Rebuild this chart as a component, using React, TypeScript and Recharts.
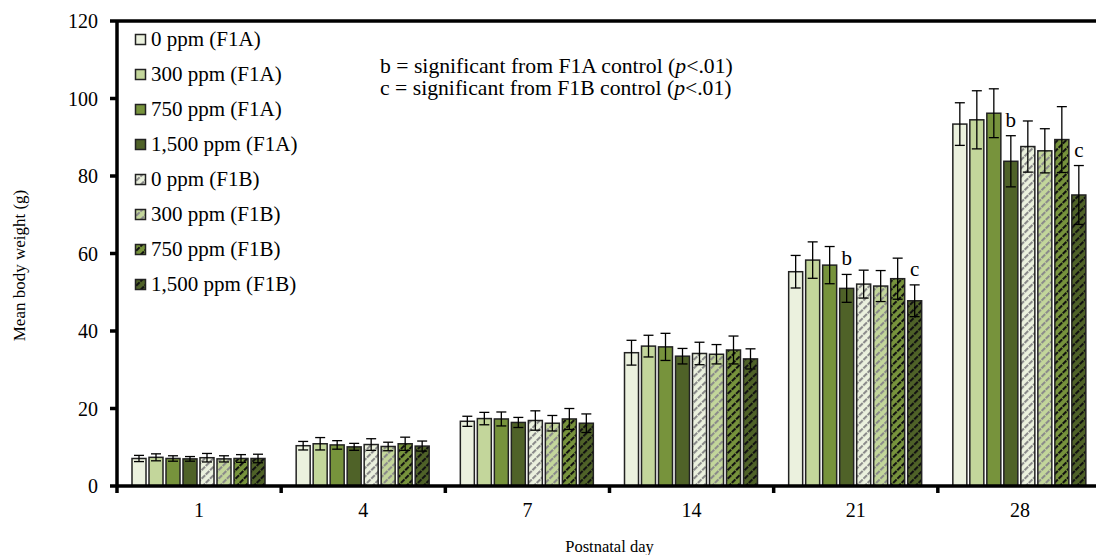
import * as React from "react";
import {
  Bar,
  BarChart,
  LabelList,
  ReferenceLine,
  XAxis,
  YAxis
} from "recharts";

const days = ["1", "4", "7", "14", "21", "28"];

const f1a0 = [7.1, 10.4, 16.7, 34.4, 55.3, 93.4];
const f1a0Err = [0.8, 1.1, 1.3, 3.2, 4.2, 5.5];
const f1a300 = [7.4, 10.9, 17.4, 36.1, 58.3, 94.5];
const f1a300Err = [0.9, 1.6, 1.6, 2.8, 4.7, 7.5];
const f1a750 = [7.1, 10.6, 17.3, 35.9, 57.0, 96.2];
const f1a750Err = [0.7, 1.1, 1.8, 3.5, 4.8, 6.3];
const f1a1500 = [7.0, 10.1, 16.4, 33.5, 51.0, 83.8];
const f1a1500Err = [0.6, 0.9, 1.3, 2.0, 3.6, 6.6];

const f1b0 = [7.3, 10.7, 16.9, 34.2, 52.1, 87.6];
const f1b0Err = [1.1, 1.5, 2.5, 2.9, 3.6, 6.6];
const f1b300 = [7.0, 10.2, 16.2, 34.0, 51.6, 86.5];
const f1b300Err = [0.8, 1.1, 2.0, 2.5, 4.0, 5.7];
const f1b750 = [7.1, 10.9, 17.3, 35.1, 53.5, 89.4];
const f1b750Err = [1.0, 1.7, 2.7, 3.6, 5.3, 8.5];
const f1b1500 = [7.1, 10.3, 16.2, 32.8, 47.8, 75.1];
const f1b1500Err = [1.1, 1.3, 2.4, 2.6, 4.1, 7.6];

// significance letters drawn above the 1,500 ppm bars
const sigF1A = ["", "", "", "", "b", "b"];
const sigF1B = ["", "", "", "", "c", "c"];

const yTicks = [0, 20, 40, 60, 80, 100, 120];

const FONT = "'Liberation Serif', 'Times New Roman', serif";

const series = [
  { key: "a0", name: "0 ppm (F1A)", fill: "#EBF1DE", values: f1a0, err: f1a0Err },
  { key: "a300", name: "300 ppm (F1A)", fill: "#C3D69B", values: f1a300, err: f1a300Err },
  { key: "a750", name: "750 ppm (F1A)", fill: "#77933C", values: f1a750, err: f1a750Err },
  { key: "a1500", name: "1,500 ppm (F1A)", fill: "#4F6228", values: f1a1500, err: f1a1500Err },
  { key: "b0", name: "0 ppm (F1B)", fill: "url(#hatch0)", values: f1b0, err: f1b0Err },
  { key: "b300", name: "300 ppm (F1B)", fill: "url(#hatch300)", values: f1b300, err: f1b300Err },
  { key: "b750", name: "750 ppm (F1B)", fill: "url(#hatch750)", values: f1b750, err: f1b750Err },
  { key: "b1500", name: "1,500 ppm (F1B)", fill: "url(#hatch1500)", values: f1b1500, err: f1b1500Err }
];

const data = days.map((day, i) => {
  const row: Record<string, any> = { day, sigA: sigF1A[i], sigB: sigF1B[i] };
  series.forEach((s) => {
    row[s.key] = s.values[i];
  });
  return row;
});

const hatches = [
  { id: "hatch0", bg: "#EBF1DE", line: "#8a8a8a" },
  { id: "hatch300", bg: "#C3D69B", line: "#8a8a8a" },
  { id: "hatch750", bg: "#77933C", line: "#111" },
  { id: "hatch1500", bg: "#4F6228", line: "#111" }
];

// bar with its +/- error bar drawn on top
function barWithError(values: number[], errs: number[]) {
  return (props: any) => {
    const { x, y, width, height, fill, index } = props;
    const e = (errs[index] * height) / values[index];
    const cx = x + width / 2;
    return (
      <g>
        <rect x={x} y={y} width={width} height={height} fill={fill} stroke="#222" strokeWidth={1.5} />
        <line x1={cx} y1={y - e} x2={cx} y2={y + e} stroke="#000" strokeWidth={1.3} />
        <line x1={cx - 5} y1={y - e} x2={cx + 5} y2={y - e} stroke="#000" strokeWidth={1.3} />
        <line x1={cx - 5} y1={y + e} x2={cx + 5} y2={y + e} stroke="#000" strokeWidth={1.3} />
      </g>
    );
  };
}

function sigLabel(values: number[], errs: number[]) {
  return (props: any) => {
    const vb = props.viewBox || {};
    const x = props.x ?? vb.x;
    const y = props.y ?? vb.y;
    const width = props.width ?? vb.width;
    const height = props.height ?? vb.height;
    const idx = props.index;
    if (!props.value || idx == null) return null;
    const top = y - (errs[idx] * height) / values[idx];
    return (
      <text
        x={x + width / 2}
        y={top - 9}
        textAnchor="middle"
        fontSize={21}
        fontFamily={FONT}
        fill="#000"
      >
        {props.value}
      </text>
    );
  };
}

// category label in the middle, tick marks on the group edges
function XTick(props: any) {
  const { x, y, payload, visibleTicksCount } = props;
  const half = payload.offset || 0;
  const isLast = payload.index === (visibleTicksCount ?? days.length) - 1;
  return (
    <g>
      <line x1={x - half} y1={y} x2={x - half} y2={y + 7} stroke="#000" strokeWidth={3.5} />
      {isLast && (
        <line x1={x + half} y1={y} x2={x + half} y2={y + 7} stroke="#000" strokeWidth={3.5} />
      )}
      <text x={x} y={y + 31} textAnchor="middle" fontSize={20} fontFamily={FONT} fill="#000">
        {payload.value}
      </text>
    </g>
  );
}

function YTitle(props: any) {
  const vb = props.viewBox || {};
  const cx = vb.x + 21;
  const cy = vb.y + vb.height / 2 + 12;
  return (
    <text
      x={cx}
      y={cy}
      transform={`rotate(-90, ${cx}, ${cy})`}
      textAnchor="middle"
      dominantBaseline="middle"
      fontSize={17}
      fontFamily={FONT}
      fill="#000"
    >
      Mean body weight (g)
    </text>
  );
}

function LegendBox() {
  return (
    <div
      style={{
        position: "absolute",
        left: 134,
        top: 22,
        fontFamily: FONT,
        fontSize: 21,
        color: "#000",
        whiteSpace: "nowrap"
      }}
    >
      {series.map((s) => (
        <div
          key={s.key}
          style={{ display: "flex", alignItems: "center", height: 35 }}
        >
          <svg width={15} height={13} style={{ marginRight: 2 }}>
            <rect x={1.5} y={1.5} width={10} height={10} fill={s.fill} stroke="#222" strokeWidth={1.5} />
          </svg>
          <span>{s.name}</span>
        </div>
      ))}
    </div>
  );
}

export default function App() {
  return (
    <div
      style={{
        position: "fixed",
        left: 0,
        top: 0,
        width: 1096,
        height: 555,
        overflow: "hidden",
        background: "#fff"
      }}
    >
      <BarChart
        width={1110}
        height={555}
        data={data}
        margin={{ top: 21, right: 8, bottom: 0, left: 0 }}
        barGap={3}
        barCategoryGap={15}
      >
        <defs>
          {hatches.map((h) => (
            <pattern
              key={h.id}
              id={h.id}
              patternUnits="userSpaceOnUse"
              width={6}
              height={6}
              patternTransform="rotate(45)"
            >
              <rect width={6} height={6} fill={h.bg} />
              <line x1={1} y1={0} x2={1} y2={6} stroke={h.line} strokeWidth={2.2} strokeDasharray="4 1" />
            </pattern>
          ))}
        </defs>
        <XAxis
          dataKey="day"
          interval={0}
          height={69}
          tickSize={0}
          tickMargin={0}
          tickLine={false}
          axisLine={{ stroke: "#000", strokeWidth: 3.5 }}
          tick={<XTick />}
          label={{
            value: "Postnatal day",
            position: "insideBottom",
            offset: 3,
            style: { fill: "#000", fontSize: 16.5, fontFamily: FONT }
          }}
        />
        <YAxis
          width={117}
          domain={[0, 120]}
          ticks={yTicks}
          interval={0}
          tickSize={7}
          tickMargin={12}
          axisLine={{ stroke: "#000", strokeWidth: 3.5 }}
          tickLine={{ stroke: "#000", strokeWidth: 3.5 }}
          tick={{ fill: "#000", fontSize: 20, fontFamily: FONT }}
          label={<YTitle />}
        />
        <ReferenceLine y={120} stroke="#000" strokeWidth={3.5} ifOverflow="visible" />
        {series.map((s) => (
          <Bar
            key={s.key}
            dataKey={s.key}
            name={s.name}
            fill={s.fill}
            shape={barWithError(s.values, s.err)}
            isAnimationActive={false}
          >
            {s.key === "a1500" && (
              <LabelList dataKey="sigA" content={sigLabel(s.values, s.err)} />
            )}
            {s.key === "b1500" && (
              <LabelList dataKey="sigB" content={sigLabel(s.values, s.err)} />
            )}
          </Bar>
        ))}
      </BarChart>
      <LegendBox />
      <div
        style={{
          position: "absolute",
          left: 380,
          top: 55,
          fontFamily: FONT,
          fontSize: 21.7,
          lineHeight: "22px",
          color: "#000",
          whiteSpace: "nowrap"
        }}
      >
        <div>
          b = significant from F1A control (<i>p</i>&lt;.01)
        </div>
        <div>
          c = significant from F1B control (<i>p</i>&lt;.01)
        </div>
      </div>
    </div>
  );
}
